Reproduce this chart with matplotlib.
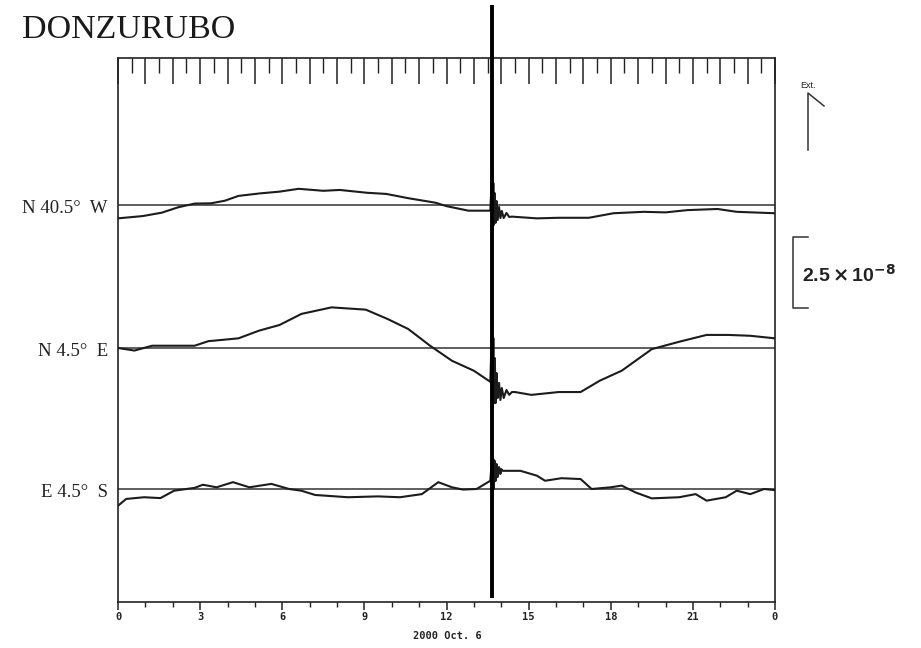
import numpy as np
import matplotlib
matplotlib.use("Agg")
import matplotlib.pyplot as plt
from matplotlib.ticker import MultipleLocator, FixedLocator

# ---------------- data (strain, units of 1e-8; time in hours, 2000 Oct. 6) ----------------
components = ["N 40.5°  W", "N 4.5°  E", "E 4.5°  S"]

nw_t = [0, 0.9, 1.6, 2.2, 2.8, 3.4, 3.9, 4.4, 5.2, 5.9, 6.6, 7.5, 8.1, 9.1, 9.8, 10.6,
        11.6, 12.0, 12.8, 13.6, 14.4, 15.3, 16.1, 17.2, 18.1, 19.2, 20.0, 20.8, 21.9, 22.6, 24]
nw_v = [-0.47, -0.39, -0.27, -0.08, 0.05, 0.06, 0.15, 0.32, 0.41, 0.47, 0.57, 0.50, 0.53, 0.43,
        0.39, 0.24, 0.08, -0.04, -0.20, -0.20, -0.41, -0.47, -0.45, -0.45, -0.29, -0.24, -0.26,
        -0.18, -0.14, -0.24, -0.29]
nw_quake_t = [13.67, 13.69, 13.71, 13.73, 13.76, 13.79, 13.83, 13.87, 13.92, 13.97, 14.02, 14.09, 14.19, 14.29]
nw_quake_v = [1.23, -0.88, 0.77, -0.70, 0.42, -0.63, 0.14, -0.53, -0.07, -0.46, -0.21, -0.46, -0.28, -0.42]

ne_t = [0, 0.6, 1.25, 2.8, 3.3, 4.4, 5.15, 5.9, 6.7, 7.8, 9.05, 9.85, 10.6, 11.4, 12.2, 13.0,
        13.6, 14.5, 15.1, 16.1, 16.9, 17.6, 18.4, 19.5, 20.5, 21.5, 22.3, 23.1, 24]
ne_v = [0.0, -0.09, 0.08, 0.08, 0.24, 0.34, 0.61, 0.81, 1.20, 1.43, 1.35, 1.02, 0.67, 0.08,
        -0.45, -0.80, -1.19, -1.55, -1.65, -1.55, -1.55, -1.15, -0.80, -0.04, 0.22, 0.46, 0.46,
        0.43, 0.34]
ne_quake_t = [13.67, 13.69, 13.71, 13.73, 13.76, 13.79, 13.83, 13.87, 13.92, 13.97, 14.02, 14.09, 14.19, 14.29, 14.39]
ne_quake_v = [0.99, -2.11, 0.35, -1.94, -0.35, -1.94, -0.88, -1.76, -1.23, -1.83, -1.41, -1.76, -1.48, -1.65, -1.55]

es_t = [0, 0.3, 0.95, 1.55, 2.05, 2.8, 3.1, 3.6, 4.2, 4.8, 5.6, 6.25, 6.7, 7.2, 8.4, 9.5, 10.3,
        11.1, 11.7, 12.2, 12.6, 13.1, 13.6, 14.05, 14.7, 15.3, 15.6, 16.2, 16.9, 17.3, 18.0, 18.4,
        18.9, 19.5, 20.5, 21.1, 21.5, 22.2, 22.6, 23.1, 23.6, 24]
es_v = [-0.59, -0.35, -0.29, -0.32, -0.06, 0.04, 0.15, 0.06, 0.24, 0.06, 0.18, 0.0, -0.06, -0.21,
        -0.29, -0.26, -0.29, -0.18, 0.24, 0.06, -0.02, 0.0, 0.29, 0.64, 0.64, 0.47, 0.29, 0.38,
        0.35, 0.0, 0.06, 0.12, -0.12, -0.33, -0.29, -0.18, -0.41, -0.29, -0.06, -0.18, 0.0, -0.04]
es_quake_t = [13.67, 13.69, 13.71, 13.73, 13.76, 13.79, 13.83, 13.87, 13.92, 13.97, 14.0]
es_quake_v = [1.20, -0.28, 1.06, 0.0, 0.99, 0.28, 0.88, 0.42, 0.77, 0.53, 0.70]

quake_time = 13.66
tick_labels = ["0", "3", "6", "9", "12", "15", "18", "21", "0"]
scale_value = 2.5  # 2.5 x 10^-8

# ---------------- layout ----------------
W, H = 921, 648
fig = plt.figure(figsize=(W / 100, H / 100), dpi=100)
L, R, T, B = 118, 775, 58, 602
ax = fig.add_axes([L / W, 1 - B / H, (R - L) / W, (B - T) / H])
px = 0.0352  # strain units per pixel
ytop = (B - T) * px
ax.set_xlim(0, 24)
ax.set_ylim(0, ytop)

offsets = [(B - 205) * px, (B - 348) * px, (B - 489) * px]
series = [(nw_t, nw_v, nw_quake_t, nw_quake_v),
          (ne_t, ne_v, ne_quake_t, ne_quake_v),
          (es_t, es_v, es_quake_t, es_quake_v)]

ink = "#1c1c1c"
for off, name, (t, v, qt, qv) in zip(offsets, components, series):
    tt = np.array(list(t) + list(qt))
    vv = np.array(list(v) + list(qv))
    order = np.argsort(tt, kind="stable")
    ax.axhline(off, color="#333333", lw=1.1, zorder=2)
    ax.plot(tt[order], vv[order] + off, color=ink, lw=1.5, zorder=3)
    ax.text(-0.37, off - 0.12, name, ha="right", va="center", fontsize=13.5,
            family=["Liberation Serif", "DejaVu Serif"], color="#222222")

# earthquake saturated trace
ax.plot([quake_time, quake_time], [(B - 598) * px, (B - 5) * px], color="black", lw=2.8,
        clip_on=False, zorder=4, solid_capstyle="butt")

# spines
for s in ["left", "right", "top", "bottom"]:
    ax.spines[s].set_linewidth(1.2)
    ax.spines[s].set_color("#222222")

ax.set_yticks([])
# bottom axis ticks
ax.xaxis.set_major_locator(FixedLocator(np.arange(0, 25, 3)))
ax.xaxis.set_minor_locator(MultipleLocator(1))
ax.set_xticklabels(tick_labels)
ax.tick_params(axis="x", which="major", direction="out", length=5.5, width=1.1, pad=2,
               labelsize=7.5, colors="#222222")
ax.tick_params(axis="x", which="minor", direction="out", length=3.5, width=1.0, colors="#222222")
for lab in ax.get_xticklabels():
    lab.set_family("DejaVu Sans Mono")
    lab.set_fontweight("bold")

# top ticks
ax2 = ax.twiny()
ax2.set_xlim(0, 24)
ax2.xaxis.set_major_locator(MultipleLocator(1))
ax2.xaxis.set_minor_locator(MultipleLocator(0.5))
ax2.tick_params(axis="x", which="major", direction="in", length=19, width=1.1, labeltop=False,
                colors="#222222")
ax2.tick_params(axis="x", which="minor", direction="in", length=11, width=1.0, colors="#222222")
ax2.set_yticks([])
for s in ax2.spines.values():
    s.set_visible(False)

# texts
fig.text(22 / W, 1 - 30 / H, "DONZURUBO", ha="left", va="center", fontsize=24.5,
         family=["Liberation Serif", "DejaVu Serif"], color="#1a1a1a")
fig.text(447 / W, 1 - 636 / H, "2000 Oct. 6", ha="center", va="center", fontsize=7.5,
         family="DejaVu Sans Mono", fontweight="bold", color="#222222")

# Ext. flag
def xd(p):
    return (p - L) / (R - L) * 24

def yd(p):
    return (B - p) * px

ax.plot([xd(808), xd(808), xd(824)], [yd(150), yd(93), yd(106)], color="#333333", lw=1.1,
        clip_on=False)
ax.text(xd(808), yd(86), "Ext.", ha="center", va="center", fontsize=6.5,
        family="Liberation Sans", color="#222222")

# scale bar 2.5e-8
y0 = yd(308)
ax.plot([xd(808), xd(793), xd(793), xd(808)], [y0, y0, y0 + scale_value, y0 + scale_value],
        color="#333333", lw=1.1, clip_on=False)
ax.text(xd(802), y0 + scale_value / 2 - 0.1, r"2.5$\,\mathbf{\times}\,$10$^{\mathbf{-8}}$",
        ha="left", va="center", fontsize=14, fontweight="bold",
        family="Liberation Sans", color="#222222")

fig.savefig("out.png", dpi=100, facecolor="white")
